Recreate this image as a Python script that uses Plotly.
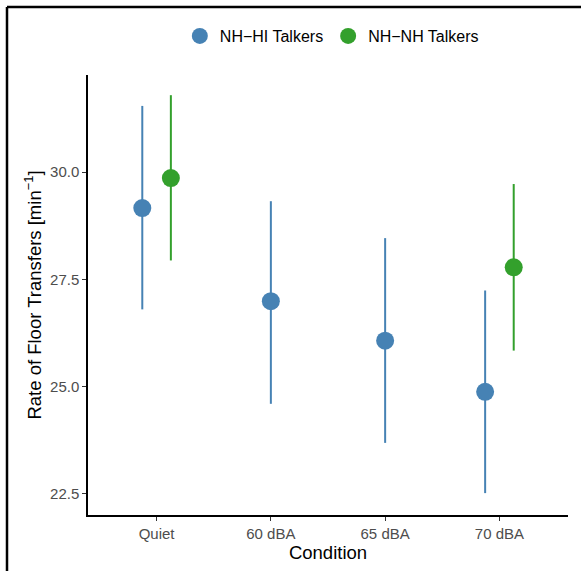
import plotly.graph_objects as go

categories = ["Quiet", "60 dBA", "65 dBA", "70 dBA"]
cat_pos = [1, 2, 3, 4]

# NH-HI Talkers (all conditions)
hi_mean = [29.16, 26.99, 26.07, 24.88]
hi_upper = [31.54, 29.32, 28.46, 27.24]
hi_lower = [26.80, 24.60, 23.69, 22.52]
hi_x = [0.875, 2.0, 3.0, 3.875]

# NH-NH Talkers (Quiet and 70 dBA)
nh_mean = [29.86, 27.78]
nh_upper = [31.79, 29.72]
nh_lower = [27.94, 25.84]
nh_x = [1.125, 4.125]

blue = "#4682B4"
green = "#33A02C"

def trace(x, m, up, lo, color, name):
    return go.Scatter(
        x=x, y=m, mode="markers", name=name,
        marker=dict(color=color, size=18, line=dict(width=0)),
        error_y=dict(type="data", symmetric=False,
                     array=[u - v for u, v in zip(up, m)],
                     arrayminus=[v - l for v, l in zip(m, lo)],
                     color=color, thickness=2, width=0),
    )

fig = go.Figure()
fig.add_trace(trace(hi_x, hi_mean, hi_upper, hi_lower, blue, "NH\u2212HI Talkers"))
fig.add_trace(trace(nh_x, nh_mean, nh_upper, nh_lower, green, "NH\u2212NH Talkers"))

font = "Liberation Sans, Arial, Helvetica, sans-serif"
fig.update_layout(
    width=581, height=571,
    margin=dict(l=88, r=13, t=75, b=56),
    paper_bgcolor="white", plot_bgcolor="white",
    font=dict(family=font, color="black"),
    showlegend=True,
    legend=dict(orientation="h", x=0.508, xanchor="center", y=1.0886, yanchor="middle",
                font=dict(size=16, color="black"), itemsizing="trace"),
    xaxis=dict(range=[0.4, 4.6], tickvals=cat_pos, ticktext=categories,
               showgrid=False, zeroline=False, showline=True, linecolor="black", linewidth=1.5,
               ticks="outside", ticklen=4, tickcolor="#333333",
               tickfont=dict(size=15, color="#4D4D4D"),
               title=dict(text="Condition", font=dict(size=18.5, color="black"), standoff=2)),
    yaxis=dict(range=[22.01, 32.26], tickvals=[22.5, 25.0, 27.5, 30.0],
               ticktext=["22.5", "25.0", "27.5", "30.0"],
               showgrid=False, zeroline=False, showline=True, linecolor="black", linewidth=1.5,
               ticks="outside", ticklen=4, tickcolor="#333333",
               tickfont=dict(size=15, color="#4D4D4D"),
               title=dict(text="Rate of Floor Transfers [min<sup>\u22121</sup>]",
                          font=dict(size=18.5, color="black"), standoff=4)),
    shapes=[
        dict(type="line", xref="paper", yref="paper", x0=-0.16875, x1=1.03, y0=1.1545, y1=1.1545,
             line=dict(color="black", width=2.5)),
        dict(type="line", xref="paper", yref="paper", x0=-0.16875, x1=-0.16875, y0=1.1545, y1=-0.13,
             line=dict(color="black", width=2.5)),
    ],
)

fig.write_html("out.html")
